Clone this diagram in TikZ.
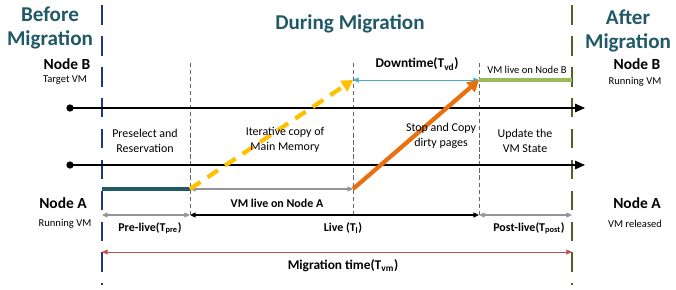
\documentclass[tikz,border=0pt]{standalone}
\usepackage{fontspec}
\setmainfont{Carlito}
\usetikzlibrary{positioning,arrows.meta}

\definecolor{headteal}{HTML}{215968}
\definecolor{beforeblue}{HTML}{1F3A78}
\definecolor{afterolive}{HTML}{4F6228}
\definecolor{copyyellow}{HTML}{FFC000}
\definecolor{copyorange}{HTML}{E8700E}
\definecolor{downblue}{HTML}{4BACC6}
\definecolor{liveB}{HTML}{9BBB59}
\definecolor{totalred}{HTML}{C0504D}
\definecolor{spangray}{HTML}{959595}

\tikzset{
  phasehead/.style={font=\bfseries\fontsize{15}{16.5}\selectfont, text=headteal, align=center},
  hostname/.style={font=\bfseries\fontsize{11}{12}\selectfont},
  hoststate/.style={font=\fontsize{7.5}{8.5}\selectfont},
  steptext/.style={font=\fontsize{8.5}{10.5}\selectfont, align=center},
  spantext/.style={font=\bfseries\fontsize{8.5}{10}\selectfont},
  spanbig/.style={font=\bfseries\fontsize{9.5}{11}\selectfont},
  smalltext/.style={font=\fontsize{7.5}{8.5}\selectfont},
  border/.style={line width=1.7pt, dash pattern=on 14pt off 8pt},
  marker/.style={densely dashed, gray!80!black, line width=0.4pt},
  timeline/.style={line width=0.9pt, -{Triangle[length=7pt,width=6pt]}},
  span/.style={line width=0.9pt, {Triangle[length=4pt,width=3.5pt]}-{Triangle[length=4pt,width=3.5pt]}}
}

\begin{document}
\begin{tikzpicture}[x=0.025cm, y=-0.025cm]
  \useasboundingbox (0,0) rectangle (676,289);

  % Phase borders.
  \draw[border, beforeblue] (102,5) -- (102,285);
  \draw[border, afterolive] (572,5) -- (572,285);
  \draw[marker] (190,63) -- (190,215);
  \draw[marker] (353,63) -- (353,215);
  \draw[marker] (479,63) -- (479,215);

  % Headings.
  \node[phasehead] (before) at (50,28) {Before\\Migration};
  \node[phasehead] (during) at (350,24) {During Migration};
  \node[phasehead] (after)  at (628,31) {After\\Migration};

  % Hosts.
  \node[hostname]  (hostBl)  at (67,64)   {Node B};
  \node[hoststate] (hostBls) at (65,80)   {Target VM};
  \node[hostname]  (hostBr)  at (637,64)  {Node B};
  \node[hoststate] (hostBrs) at (635,82)  {Running VM};
  \node[hostname]  (hostAl)  at (63,203)  {Node A};
  \node[hoststate] (hostAls) at (65,224)  {Running VM};
  \node[hostname]  (hostAr)  at (637,203) {Node A};
  \node[hoststate] (hostArs) at (635,224) {VM released};

  % Timelines of the two hosts.
  \coordinate (tlB) at (70,108);
  \coordinate (tlA) at (70,165);
  \coordinate (tlBend) at (585,108);
  \coordinate (tlAend) at (585,165);
  \fill (tlB) circle (2.6pt);
  \fill (tlA) circle (2.6pt);
  \draw[timeline] (tlB) -- (tlBend);
  \draw[timeline] (tlA) -- (tlAend);

  % Node A side.
  \coordinate (a0) at (102,189);
  \coordinate (a1) at (190,189);
  \coordinate (a2) at (353,189);
  \draw[line width=2.2pt, headteal] (a0) -- (a1);
  \draw[span, spangray] (a1) -- (a2);
  \node[spantext] (liveA) at (277,203) {VM live on Node A};

  % Node B side.
  \coordinate (b2) at (353,80);
  \coordinate (b3) at (479,80);
  \coordinate (b4) at (572,80);
  \draw[span, downblue, line width=0.6pt] (b2) -- (b3);
  \draw[line width=3pt, liveB] (b3) -- (b4);
  \node[spanbig] (down) at (417,64) {Downtime(T\textsubscript{vd})};
  \node[smalltext] (liveB) at (527,70) {VM live on Node B};

  % Memory transfer.
  \draw[line width=3pt, copyyellow, dash pattern=on 9pt off 6pt,
        -{Triangle[length=8pt,width=9pt]}] (a1) -- (b2);
  \draw[line width=3pt, copyorange,
        -{Triangle[length=8pt,width=9pt]}] (a2) -- (b3);

  % Steps.
  \node[steptext] (s1) at (145,141) {Preselect and\\Reservation};
  \node[steptext] (s2) at (285,140) {Iterative copy of\\Main Memory};
  \node[steptext] (s3) at (441,136) {Stop and Copy\\dirty pages};
  \node[steptext] (s4) at (525,141) {Update the\\VM State};

  % Durations.
  \coordinate (d0) at (102,215);
  \coordinate (d1) at (190,215);
  \coordinate (d3) at (479,215);
  \coordinate (d4) at (572,215);
  \draw[span, spangray] (d0) -- (d1);
  \draw[span, black]    (d1) -- (d3);
  \draw[span, spangray] (d3) -- (d4);
  \node[spantext] (tpre)  at (150,228) {Pre-live(T\textsubscript{pre})};
  \node[spantext] (tlive) at (343,228) {Live (T\textsubscript{l})};
  \node[spantext] (tpost) at (529,228) {Post-live(T\textsubscript{post})};

  \coordinate (m0) at (102,252);
  \coordinate (m4) at (572,252);
  \draw[span, totalred, line width=0.6pt] (m0) -- (m4);
  \node[spanbig] (tvm) at (343,266) {Migration time(T\textsubscript{vm})};
\end{tikzpicture}
\end{document}
